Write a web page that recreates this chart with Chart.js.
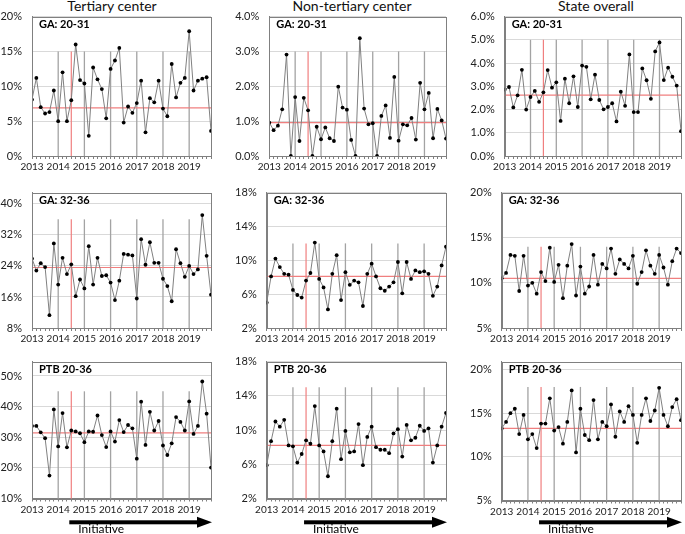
<!DOCTYPE html>
<html>
<head>
<meta charset="utf-8">
<script src="https://cdn.jsdelivr.net/npm/chart.js@4.4.1/dist/chart.umd.min.js"></script>
<style>
body { margin: 0; background: #fff; width: 685px; height: 534px; position: relative; overflow: hidden; font-family: Lato, sans-serif; }
canvas { position: absolute; }
.titulo { position: absolute; top: -3px; font-size: 14px; color: #111; white-space: nowrap; transform: translateX(-50%); }
</style>
</head>
<body>
<div class="titulo" style="left:112px">Tertiary center</div>
<div class="titulo" style="left:352px">Non-tertiary center</div>
<div class="titulo" style="left:596px">State overall</div>
<script>
// eixo x: dados bimestrais, rótulo a cada ano
const years = ['2013', '2014', '2015', '2016', '2017', '2018', '2019'];
const initiativeStart = 9;

// GA: 20-31
const tertiaryGA2031 = [8.1, 11.2, 7.0, 6.1, 6.3, 9.4, 5.0, 12.0, 5.0, 8.0, 16.0, 10.9, 10.4, 2.9, 12.7, 11.0, 9.6, 5.4, 12.5, 13.7, 15.5, 4.8, 7.1, 6.2, 7.6, 10.8, 3.4, 8.3, 7.7, 10.8, 6.8, 5.7, 13.2, 8.4, 10.5, 11.2, 17.9, 9.4, 10.8, 11.1, 11.3, 3.6];
const nonTertiaryGA2031 = [0.96, 0.74, 0.87, 1.34, 2.91, 0, 1.69, 0.43, 1.67, 1.31, 0, 0.84, 0.48, 0.82, 0.51, 0.43, 1.99, 1.39, 1.33, 0.46, 0, 3.38, 1.36, 0.91, 0.94, 0, 1.15, 1.45, 0.52, 2.27, 0.44, 0.91, 0.88, 1.09, 0.47, 2.10, 1.34, 1.81, 0.51, 1.35, 1.02, 0.50];
const stateGA2031 = [2.86, 2.97, 2.09, 2.61, 3.71, 2.0, 2.54, 2.80, 2.33, 2.74, 3.70, 2.94, 3.17, 1.51, 3.33, 2.27, 3.43, 2.11, 3.89, 3.84, 2.44, 3.50, 2.41, 2.01, 2.11, 2.27, 1.49, 2.77, 2.16, 4.37, 1.89, 1.89, 3.77, 3.26, 2.46, 4.5, 4.89, 3.27, 3.80, 3.41, 3.03, 1.07];

// GA: 32-36
const tertiaryGA3236 = [25.9, 22.8, 24.7, 23.7, 11.3, 29.8, 19.2, 26.1, 21.9, 24.4, 16.2, 20.5, 18.2, 29.1, 19.2, 26.1, 21.4, 21.6, 19.7, 15.2, 20.2, 27.1, 26.9, 26.7, 15.6, 30.9, 24.3, 30.1, 24.8, 24.8, 20.7, 18.8, 14.9, 28.3, 24.7, 21.2, 24.0, 21.9, 23.1, 37.1, 26.6, 16.6];
const nonTertiaryGA3236 = [5.0, 8.1, 10.2, 9.2, 8.4, 8.3, 6.5, 5.9, 5.6, 7.6, 8.5, 12.1, 7.8, 6.8, 4.2, 8.4, 10.6, 5.3, 8.6, 7.1, 7.6, 7.4, 4.6, 8.4, 9.6, 8.1, 6.7, 6.4, 6.9, 7.4, 9.8, 6.1, 9.8, 7.8, 8.8, 8.6, 8.7, 8.4, 5.8, 6.9, 9.4, 11.6];
const stateGA3236 = [10.5, 11.1, 13.1, 13.0, 9.1, 13.0, 9.7, 10.0, 8.8, 11.2, 10.2, 13.9, 10.1, 12.0, 8.3, 11.9, 14.3, 8.6, 11.8, 8.8, 9.6, 13.1, 9.8, 12.1, 11.6, 13.8, 11.0, 12.6, 12.1, 11.6, 13.0, 9.9, 11.2, 13.6, 11.9, 11.0, 13.1, 11.7, 9.8, 12.4, 13.8, 13.3];

// PTB 20-36
const tertiaryPTB = [33.7, 33.7, 31.6, 29.7, 17.5, 39.1, 27.0, 37.9, 26.7, 32.2, 31.9, 31.3, 28.4, 31.9, 31.8, 37.1, 30.7, 26.8, 31.9, 28.6, 35.6, 31.7, 34.0, 32.9, 23.0, 41.6, 27.5, 38.3, 32.2, 35.3, 27.3, 24.2, 28.0, 36.6, 35.0, 32.2, 41.7, 31.1, 33.7, 48.2, 37.7, 20.1];
const nonTertiaryPTB = [5.9, 8.7, 11.0, 10.4, 11.2, 8.2, 8.1, 6.2, 7.2, 8.8, 8.4, 12.8, 8.2, 7.5, 4.6, 8.7, 12.5, 6.6, 9.9, 7.4, 7.5, 10.7, 5.9, 9.2, 10.4, 8.0, 7.7, 7.7, 7.3, 9.6, 10.1, 6.9, 10.6, 8.8, 9.1, 10.5, 9.9, 10.2, 6.2, 8.2, 10.4, 12.0];
const statePTB = [13.25, 14.0, 15.0, 15.5, 12.6, 14.8, 12.0, 12.6, 11.0, 13.8, 13.8, 16.7, 13.0, 13.4, 11.5, 14.0, 17.6, 10.5, 15.5, 12.5, 11.9, 16.5, 12.0, 14.0, 13.5, 16.0, 12.3, 15.2, 14.0, 15.8, 14.8, 11.6, 14.8, 16.7, 14.1, 15.3, 17.9, 14.8, 13.5, 15.7, 16.6, 14.2];

// linha de base (pré-iniciativa) e altura das linhas verticais
const baselineGA2031 = [6.9, 0.96, 2.62];
const baselineGA3236 = [23.6, 8.1, 10.5];
const baselinePTB = [31.4, 8.2, 13.25];
const markerTopGA2031 = [15, 3, 5];
const markerTopGA3236 = [36, 12, 14];
const markerTopPTB = [45, 15, 18];

// ticks do eixo y
const ticksGA2031 = [[0, 5, 10, 15, 20], [0, 1, 2, 3, 4], [0, 1, 2, 3, 4, 5, 6]];
const ticksGA3236 = [[8, 16, 24, 32, 40], [2, 6, 10, 14, 18], [5, 10, 15, 20]];
const ticksPTB = [[10, 20, 30, 40, 50], [2, 6, 10, 14, 18], [5, 10, 15, 20]];
const yMaxGA2031 = [20, 4, 6];
const yMaxGA3236 = [42.9, 18, 20];
const yMaxPTB = [54.7, 18, 20.9];

const rowLabels = ['GA: 20-31', 'GA: 32-36', 'PTB 20-36'];

// layout (pixels)
const colLeft = [0, 225, 455], colWidth = [225, 235, 230];
const rowTop = [0, 176, 345], rowHeight = [176, 169, 189];
const plotTop = [16, 188, 359];
const plotBottom = [[156, 156, 156], [328, 328, 328], [498.5, 498.5, 500.5]];
const plotLeft = [[32, 269.3, 504.7], [32, 266.7, 501.7], [32, 266.7, 501.7]];
const plotRight = [211, 446, 681];

const deco = {
    id: 'deco',
    beforeDatasetsDraw(chart, args, o) {
        const { ctx, chartArea: a, scales: { x, y } } = chart;
        const yTop = y.getPixelForValue(o.markerTop);
        ctx.save();
        ctx.lineWidth = 1.3;
        ctx.strokeStyle = '#a3a3a3';
        years.slice(1).forEach((_, i) => {
            const px = x.getPixelForValue((i + 1) * 6);
            ctx.beginPath(); ctx.moveTo(px, a.bottom); ctx.lineTo(px, yTop); ctx.stroke();
        });
        ctx.strokeStyle = '#f07f7f';
        ctx.lineWidth = 1.2;
        const pi = x.getPixelForValue(initiativeStart);
        ctx.beginPath(); ctx.moveTo(pi, a.bottom); ctx.lineTo(pi, yTop); ctx.stroke();
        const pb = y.getPixelForValue(o.baseline);
        ctx.beginPath(); ctx.moveTo(a.left, pb); ctx.lineTo(a.right, pb); ctx.stroke();
        ctx.restore();
    },
    afterDraw(chart, args, o) {
        const { ctx, chartArea: a, scales: { x } } = chart;
        ctx.save();
        ctx.strokeStyle = '#808080';
        ctx.lineWidth = 1;
        ctx.strokeRect(Math.round(a.left) + 0.5, Math.round(a.top) + 0.5, Math.round(a.right - a.left), Math.round(a.bottom - a.top));
        ctx.fillStyle = '#000';
        ctx.font = 'bold 11px Lato';
        ctx.textBaseline = 'middle';
        ctx.fillText(o.label, a.left + 7, a.top + 8);
        if (o.arrow) {
            const x0 = x.getPixelForValue(initiativeStart) - 2;
            const x1 = a.right + 1;
            const ya = o.arrowY;
            ctx.fillRect(x0, ya - 2, x1 - 14 - x0, 4);
            ctx.beginPath();
            ctx.moveTo(x1 - 15, ya - 5.5); ctx.lineTo(x1, ya); ctx.lineTo(x1 - 15, ya + 5.5);
            ctx.closePath(); ctx.fill();
            ctx.font = '12px Lato';
            ctx.fillText('Initiative', x0 + 9, ya + 7);
        }
        ctx.restore();
    }
};

const panelValues = [
    [tertiaryGA2031, nonTertiaryGA2031, stateGA2031],
    [tertiaryGA3236, nonTertiaryGA3236, stateGA3236],
    [tertiaryPTB, nonTertiaryPTB, statePTB]
];
const baselines = [baselineGA2031, baselineGA3236, baselinePTB];
const markerTops = [markerTopGA2031, markerTopGA3236, markerTopPTB];
const yTicks = [ticksGA2031, ticksGA3236, ticksPTB];
const yMax = [yMaxGA2031, yMaxGA3236, yMaxPTB];
const indexes = tertiaryGA2031.map((_, i) => i);

for (let r = 0; r < 3; r++) {
    for (let c = 0; c < 3; c++) {
        const cv = document.createElement('canvas');
        cv.width = colWidth[c];
        cv.height = rowHeight[r];
        cv.style.left = colLeft[c] + 'px';
        cv.style.top = rowTop[r] + 'px';
        document.body.appendChild(cv);

        const tk = yTicks[r][c];
        const dec = (r === 0 && c > 0) ? 1 : 0;
        const leftW = plotLeft[r][c] - colLeft[c];
        const padT = plotTop[r] - rowTop[r];
        const padB = rowHeight[r] - 16 - (plotBottom[r][c] - rowTop[r]);
        const padR = colLeft[c] + colWidth[c] - plotRight[c];

        new Chart(cv.getContext('2d'), {
            type: 'line',
            data: {
                datasets: [{
                    data: panelValues[r][c].map((v, i) => ({ x: i, y: v })),
                    borderColor: '#808080',
                    borderWidth: 1,
                    pointRadius: 1.9,
                    pointBackgroundColor: '#000',
                    pointBorderWidth: 0,
                    tension: 0
                }]
            },
            options: {
                responsive: false,
                animation: false,
                devicePixelRatio: 1,
                layout: { padding: { left: 0, right: padR, top: padT, bottom: padB } },
                plugins: {
                    legend: { display: false },
                    tooltip: { enabled: false },
                    deco: {
                        label: rowLabels[r],
                        baseline: baselines[r][c],
                        markerTop: markerTops[r][c],
                        arrow: r === 2,
                        arrowY: 522.3 - rowTop[r]
                    }
                },
                scales: {
                    x: {
                        type: 'linear',
                        min: 0,
                        max: indexes.length - 1,
                        afterBuildTicks: s => { s.ticks = indexes.map(v => ({ value: v })); },
                        afterFit: s => { s.height = 16; },
                        ticks: {
                            autoSkip: false,
                            maxRotation: 0,
                            padding: 2,
                            color: '#222',
                            font: { family: 'Lato', size: 10 },
                            callback: v => (v % 6 === 0 ? years[v / 6] : '')
                        },
                        grid: { drawOnChartArea: false, drawTicks: true, tickLength: 3, color: '#808080' },
                        border: { color: '#808080' }
                    },
                    y: {
                        min: tk[0],
                        max: yMax[r][c],
                        afterBuildTicks: s => { s.ticks = tk.map(v => ({ value: v })); },
                        afterFit: s => { s.width = leftW; },
                        ticks: {
                            padding: 10,
                            color: '#222',
                            font: { family: 'Lato', size: 11 },
                            callback: v => v.toFixed(dec) + '%'
                        },
                        grid: { color: '#d9d9d9', drawTicks: false },
                        border: { color: '#808080' }
                    }
                }
            },
            plugins: [deco]
        });
    }
}
</script>
</body>
</html>
